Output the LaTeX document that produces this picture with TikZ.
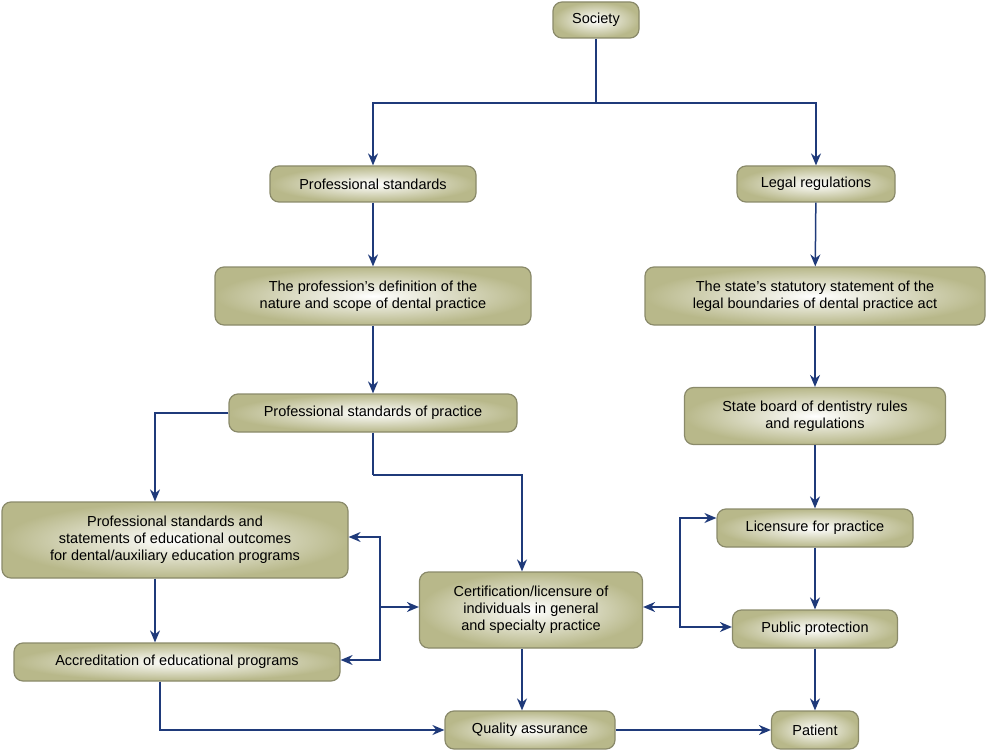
\documentclass[tikz,border=0pt]{standalone}
\usepackage{fontspec}
\setmainfont{Liberation Sans}
\usetikzlibrary{arrows.meta}
\definecolor{edge}{HTML}{1F3A7A}
\definecolor{olive}{HTML}{B8B88A}
\definecolor{bord}{HTML}{8A8A6A}
\begin{document}
\begin{tikzpicture}[x=1pt,y=-1pt,
  box/.style={draw=bord,line width=1.2pt,rounded corners=9pt,inner color=white,outer color=olive,
    align=center,font=\fontsize{14.5}{17}\selectfont,inner sep=0pt},
  arr/.style={draw=edge,line width=1.5pt,-{Stealth[length=12pt,width=10pt]}},
  ln/.style={draw=edge,line width=1.5pt}]
\useasboundingbox (0,0) rectangle (987,751);
\node[box,minimum width=86pt,minimum height=36pt] (soc) at (596,20) {Society};
\node[box,minimum width=206pt,minimum height=36pt] (ps) at (373,184) {Professional standards};
\node[box,minimum width=158pt,minimum height=36pt] (lr) at (816,184) {Legal regulations};
\node[box,minimum width=316pt,minimum height=58pt] (def) at (373,296) {The profession’s definition of the\\nature and scope of dental practice};
\node[box,minimum width=340pt,minimum height=58pt] (st) at (815,296) {The state’s statutory statement of the\\legal boundaries of dental practice act};
\node[box,minimum width=288pt,minimum height=38pt] (psp) at (373,413) {Professional standards of practice};
\node[box,minimum width=261pt,minimum height=57pt] (sb) at (815,416) {State board of dentistry rules\\and regulations};
\node[box,minimum width=346pt,minimum height=76pt] (pse) at (175,540) {Professional standards and\\statements of educational outcomes\\for dental/auxiliary education programs};
\node[box,minimum width=196pt,minimum height=38pt] (lic) at (815,528) {Licensure for practice};
\node[box,minimum width=223pt,minimum height=76pt] (cert) at (531,610) {Certification/licensure of\\individuals in general\\and specialty practice};
\node[box,minimum width=165pt,minimum height=38pt] (pp) at (815,629) {Public protection};
\node[box,minimum width=326pt,minimum height=38pt] (acc) at (177,662) {Accreditation of educational programs};
\node[box,minimum width=170pt,minimum height=38pt] (qa) at (530,730) {Quality assurance};
\node[box,minimum width=87pt,minimum height=38pt] (pat) at (815,730) {Patient};
\coordinate (s1) at (596,103);
\coordinate (jl) at (380,607);
\coordinate (jr) at (680,607);
\coordinate (m1) at (373,475);
\draw[ln] (soc.south) -- (s1);
\draw[arr] (s1) -| (ps.north);
\draw[arr] (s1) -| (lr.north);
\draw[arr] (ps) -- (def);
\draw[arr] (def) -- (psp);
\draw[arr] (lr) -- (st);
\draw[arr] (st) -- (sb);
\draw[arr] (sb) -- (lic);
\draw[arr] (lic) -- (pp);
\draw[arr] (pp) -- (pat);
\draw[arr] (psp.west) -| (pse.north-|155,0);
\draw[ln] (psp.south) -- (m1);
\draw[arr] (m1) -| (cert.north-|522,0);
\draw[arr] (pse.south-|155,0) -- (acc.north-|155,0);
\draw[arr] (acc.south-|160,0) |- (qa.west);
\draw[arr] (cert.south-|522,0) -- (qa.north-|522,0);
\draw[arr] (qa) -- (pat);
\draw[arr] (jl) |- (pse.east|-0,537);
\draw[arr] (jl) |- (acc.east|-0,660);
\draw[arr] (jl) -- (cert.west|-jl);
\draw[arr] (jr) |- (lic.west|-0,518);
\draw[arr] (jr) |- (pp.west|-0,627);
\draw[arr] (jr) -- (cert.east|-jr);
\end{tikzpicture}
\end{document}
